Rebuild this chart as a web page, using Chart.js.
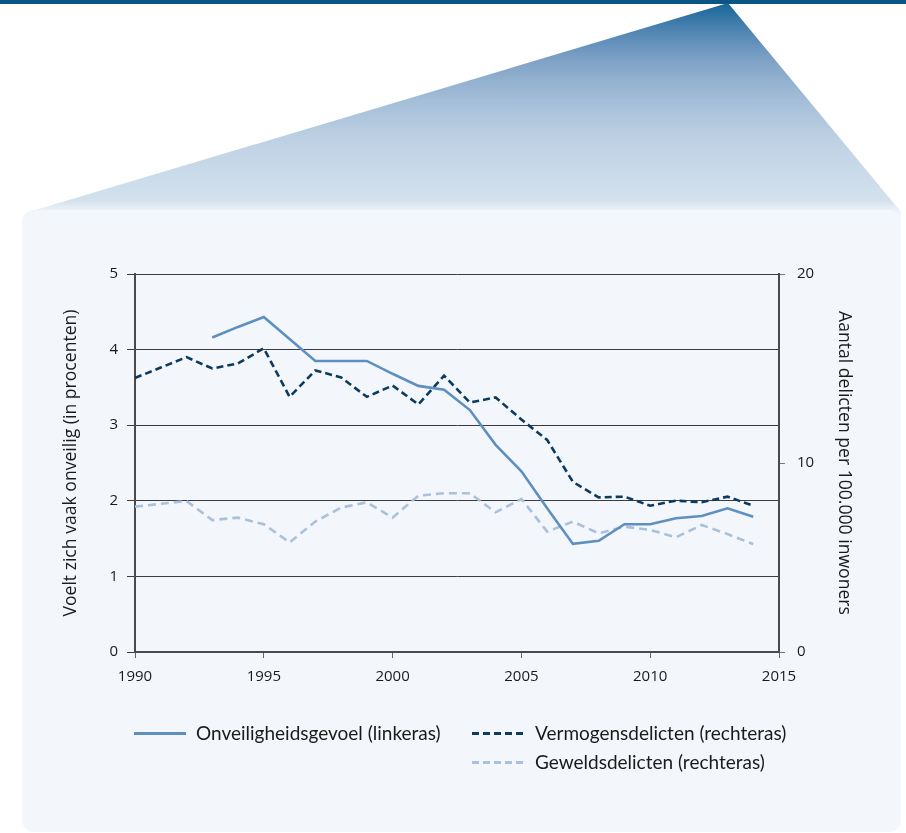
<!DOCTYPE html>
<html>
<head>
<meta charset="utf-8">
<script src="https://cdn.jsdelivr.net/npm/chart.js@4.4.1/dist/chart.umd.min.js"></script>
<style>
  html, body { margin: 0; padding: 0; background: #fff; }
  body { width: 906px; height: 833px; position: relative; overflow: hidden; font-family: "Open Sans", sans-serif; }
  .topbar { position: absolute; left: 0; top: 0; width: 906px; height: 4px; background: #0b5585; }
  .wedge {
    position: absolute; left: 0; top: 0; width: 906px; height: 230px;
    clip-path: polygon(728px 3px, 901px 212px, 901px 230px, 22px 230px, 22px 220px, 32px 211px);
    background: linear-gradient(to bottom, #0f6294 0px, #4f84b2 30px, #7fa2c6 60px, #a4bdd8 100px, #bed1e4 140px, #ccdcea 180px, #d3e1ed 200px, #f3f7fb 214px);
  }
  .panel { position: absolute; left: 22px; top: 210px; width: 879px; height: 622px; background: #f3f7fb; border-radius: 12px; }
  #chart { position: absolute; left: 0; top: 0; }
  .legend { position: absolute; left: 0; top: 0; width: 906px; height: 833px; font-family: Lato, sans-serif; font-size: 19px; color: #1a1a1a; pointer-events: none; }
  .legend .swatch { position: absolute; height: 3px; }
  .legend .text { position: absolute; line-height: 24px; white-space: nowrap; }
</style>
</head>
<body>
<div class="topbar"></div>
<div class="wedge"></div>
<div class="panel"></div>
<canvas id="chart" width="906" height="833"></canvas>
<div class="legend" id="legend"></div>

<script>
  // 데이터
  const years = [1990, 1991, 1992, 1993, 1994, 1995, 1996, 1997, 1998, 1999, 2000, 2001, 2002,
    2003, 2004, 2005, 2006, 2007, 2008, 2009, 2010, 2011, 2012, 2013, 2014];

  // 왼쪽 축 (procenten)
  const onveiligheid = [null, null, null, 4.16, 4.30, 4.43, 4.14, 3.85, 3.85, 3.85, 3.68, 3.52, 3.47,
    3.20, 2.74, 2.39, 1.90, 1.43, 1.47, 1.69, 1.69, 1.77, 1.80, 1.90, 1.79];

  // 오른쪽 축 (per 100.000 inwoners)
  const vermogens = [14.5, 15.05, 15.6, 15.0, 15.27, 16.07, 13.5, 14.9, 14.53, 13.5, 14.1, 13.1, 14.62,
    13.2, 13.47, 12.3, 11.22, 9.0, 8.18, 8.22, 7.74, 8.01, 7.92, 8.22, 7.74];
  const geweld = [7.69, 7.84, 7.99, 6.98, 7.11, 6.76, 5.8, 6.9, 7.64, 7.92, 7.11, 8.27, 8.4,
    8.4, 7.39, 8.1, 6.37, 6.9, 6.28, 6.63, 6.46, 6.07, 6.72, 6.24, 5.71];

  const leftTicks = [0, 1, 2, 3, 4, 5];
  const rightTicks = [0, 10, 20];
  const xTicks = [1990, 1995, 2000, 2005, 2010, 2015];

  const labels = {
    onveiligheid: 'Onveiligheidsgevoel (linkeras)',
    vermogens: 'Vermogensdelicten (rechteras)',
    geweld: 'Geweldsdelicten (rechteras)',
  };

  const COLORS = {
    onveiligheid: '#5d8fc0',
    vermogens: '#0d3b5f',
    geweld: '#a9c1dc',
    axis: '#4a4a4a',
    grid: '#3c3c3c',
    text: '#1a1a1a',
  };

  function toPoints(values) {
    return years.map((x, i) => ({ x, y: values[i] }));
  }

  const tickFont = { family: 'Open Sans', size: 15 };
  const titleFont = { family: 'Open Sans', size: 17.6 };

  const chart = new Chart(document.getElementById('chart'), {
    type: 'line',
    data: {
      datasets: [
        {
          label: labels.onveiligheid,
          data: toPoints(onveiligheid),
          borderColor: COLORS.onveiligheid,
          borderWidth: 2.6,
          yAxisID: 'y',
        },
        {
          label: labels.vermogens,
          data: toPoints(vermogens),
          borderColor: COLORS.vermogens,
          borderWidth: 2.6,
          borderDash: [7, 4],
          yAxisID: 'y1',
        },
        {
          label: labels.geweld,
          data: toPoints(geweld),
          borderColor: COLORS.geweld,
          borderWidth: 2.6,
          borderDash: [8, 5],
          yAxisID: 'y1',
        },
      ],
    },
    options: {
      responsive: false,
      animation: false,
      spanGaps: false,
      elements: { point: { radius: 0 }, line: { tension: 0 } },
      layout: { padding: { left: 0, right: 0, top: 274, bottom: 141 } },
      plugins: { legend: { display: false }, tooltip: { enabled: false } },
      scales: {
        x: {
          type: 'linear',
          min: xTicks[0],
          max: xTicks[xTicks.length - 1],
          afterBuildTicks: (s) => { s.ticks = xTicks.map((v) => ({ value: v })); },
          afterFit: (s) => { s.height = 40; },
          ticks: { font: tickFont, color: COLORS.text, padding: 10, callback: (v) => String(v), maxRotation: 0 },
          grid: { drawOnChartArea: false, tickLength: 6, color: '#666' },
          border: { color: COLORS.axis, width: 2 },
        },
        y: {
          position: 'left',
          min: 0,
          max: 5,
          afterBuildTicks: (s) => { s.ticks = leftTicks.map((v) => ({ value: v })); },
          afterFit: (s) => { s.width = 135; },
          ticks: { font: tickFont, color: COLORS.text, padding: 9 },
          grid: { color: COLORS.grid, lineWidth: 1, tickLength: 8 },
          border: { color: COLORS.axis, width: 2 },
          title: {
            display: true,
            text: 'Voelt zich vaak onveilig (in procenten)',
            font: titleFont,
            color: COLORS.text,
            padding: { top: 60, bottom: 0 },
          },
        },
        y1: {
          position: 'right',
          min: 0,
          max: 20,
          afterBuildTicks: (s) => { s.ticks = rightTicks.map((v) => ({ value: v })); },
          afterFit: (s) => { s.width = 127; },
          ticks: { font: tickFont, color: COLORS.text, padding: 12 },
          grid: { drawOnChartArea: false, tickLength: 6, color: '#777' },
          border: { color: COLORS.axis, width: 2 },
          title: {
            display: true,
            text: 'Aantal delicten per 100.000 inwoners',
            font: titleFont,
            color: COLORS.text,
            padding: { top: 51, bottom: 0 },
          },
        },
      },
    },
  });

  // HTML 범례
  const legendItems = [
    { key: 'onveiligheid', swatchLeft: 134, swatchWidth: 52, textLeft: 196, y: 733, dash: null },
    { key: 'vermogens', swatchLeft: 472, swatchWidth: 51, textLeft: 535, y: 733, dash: [7, 4] },
    { key: 'geweld', swatchLeft: 472, swatchWidth: 51, textLeft: 535, y: 762, dash: [7, 4] },
  ];
  const legendEl = document.getElementById('legend');
  legendItems.forEach((item) => {
    const c = COLORS[item.key];
    const sw = document.createElement('div');
    sw.className = 'swatch';
    sw.style.left = item.swatchLeft + 'px';
    sw.style.top = (item.y - 1) + 'px';
    sw.style.width = item.swatchWidth + 'px';
    sw.style.background = item.dash
      ? `repeating-linear-gradient(to right, ${c} 0 ${item.dash[0]}px, transparent ${item.dash[0]}px ${item.dash[0] + item.dash[1]}px)`
      : c;
    const tx = document.createElement('div');
    tx.className = 'text';
    tx.style.left = item.textLeft + 'px';
    tx.style.top = (item.y - 12) + 'px';
    tx.textContent = labels[item.key];
    legendEl.appendChild(sw);
    legendEl.appendChild(tx);
  });
</script>
</body>
</html>
